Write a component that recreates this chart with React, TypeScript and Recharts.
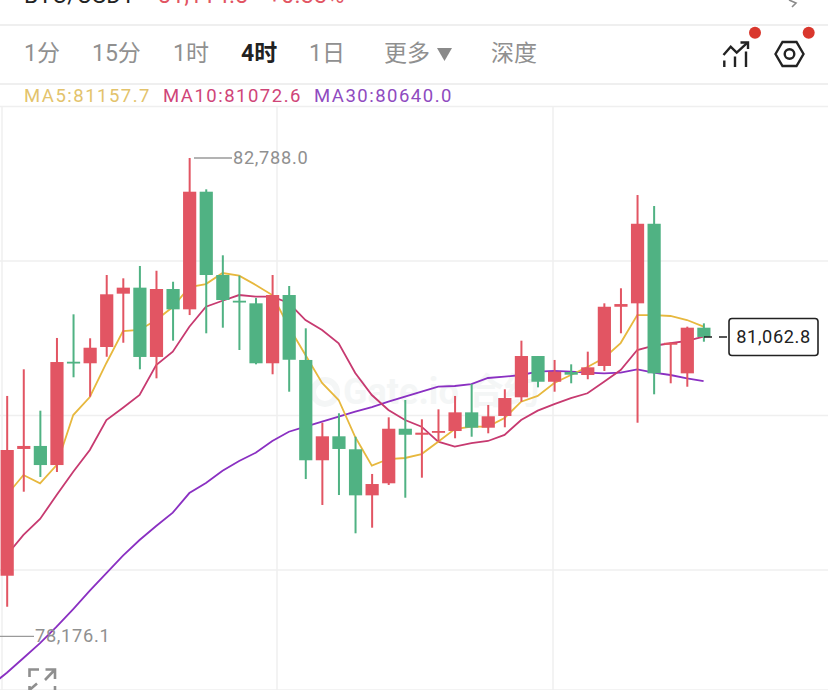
import {
  Bar,
  CartesianGrid,
  ComposedChart,
  Line,
  ReferenceLine,
  XAxis,
  YAxis,
} from "recharts";

const opens = [78761, 79983, 80012, 79828, 80824, 80809, 80966, 81480, 81538, 80870, 81525, 81329, 82463, 81660, 81412, 81387, 80809, 81467, 80841, 79874, 80105, 79980, 79536, 79652, 80178, 80120, 80146, 80156, 80336, 80188, 80301, 80481, 80879, 80631, 80725, 80696, 80783, 81354, 81387, 82154, 80988, 80712, 81152];
const closes = [79973, 80012, 79828, 80821, 80812, 80959, 81474, 81538, 80870, 81525, 81329, 82463, 81660, 81419, 81397, 80809, 81467, 80843, 79874, 80105, 79983, 79536, 79645, 80178, 80120, 80140, 80156, 80336, 80188, 80298, 80474, 80879, 80631, 80728, 80699, 80770, 81354, 81380, 82154, 80712, 81007, 81152, 81062.8];
const highs = [80494, 80751, 80352, 81053, 81281, 81050, 81660, 81628, 81747, 81701, 81595, 82788, 82486, 81850, 81653, 81438, 81660, 81554, 81146, 80236, 80327, 80101, 79742, 80288, 80455, 80269, 80365, 80494, 80609, 80407, 80558, 81027, 80879, 80841, 80799, 80921, 81387, 81532, 82431, 82325, 81011, 81162, 81194];
const lows = [78462, 79571, 79713, 79761, 80674, 80487, 80872, 81007, 80751, 80664, 81027, 81274, 81098, 81152, 80937, 80799, 80703, 80535, 79693, 79443, 79539, 79170, 79224, 79636, 79513, 79706, 80053, 80086, 80101, 80134, 80192, 80439, 80577, 80535, 80616, 80655, 80735, 81098, 80236, 80510, 80616, 80583, 81017];

const ma5 = [79539, 79732, 79652, 79828, 80310, 80484, 80812, 81120, 81130, 81226, 81351, 81544, 81573, 81679, 81653, 81564, 81467, 81159, 80889, 80619, 80455, 80098, 79822, 79886, 79896, 79934, 80053, 80175, 80198, 80198, 80281, 80439, 80494, 80619, 80696, 80773, 80860, 81004, 81274, 81274, 81265, 81226, 81162];
const ma10 = [78961, 79154, 79308, 79539, 79764, 79973, 80262, 80381, 80503, 80792, 80921, 81162, 81354, 81412, 81467, 81451, 81451, 81390, 81226, 81130, 81002, 80715, 80503, 80359, 80262, 80198, 80053, 80005, 80040, 80060, 80118, 80262, 80352, 80416, 80474, 80520, 80631, 80744, 80937, 80978, 81002, 81024, 81065];
const ma30 = [77826, 77968, 78112, 78270, 78440, 78617, 78787, 78954, 79105, 79240, 79369, 79558, 79655, 79773, 79867, 79947, 80060, 80149, 80198, 80246, 80294, 80342, 80387, 80439, 80487, 80535, 80583, 80590, 80609, 80667, 80680, 80696, 80728, 80735, 80728, 80718, 80712, 80718, 80751, 80718, 80696, 80664, 80638];
// MA30 point of the candle just off the left edge, the line runs in from there
const ma30Before = 77698;

const priceTicks = [83284.4, 81795.1, 80305.8, 78816.6];
const lastPrice = 81062.8;
const highMark = 82788.0;
const lowMark = 78176.1;
// the chart leaves room for 7 more candles on the right
const emptySlots = 7;

const tabs = [
  { label: "1分", left: 24 },
  { label: "15分", left: 92 },
  { label: "1时", left: 173 },
  { label: "4时", left: 241, active: true },
  { label: "1日", left: 309 },
  { label: "更多", left: 384 },
  { label: "深度", left: 491 },
];

const UP = "#e25563";
const DOWN = "#50b283";
const GRID = "#efefef";
const LABEL = "#909090";
const FONT = "Roboto, 'Noto Sans CJK SC', sans-serif";

const rows: any[] = [
  { slot: -1, ma30: ma30Before },
  ...opens.map((open, i) => ({
    slot: i,
    open,
    close: closes[i],
    high: highs[i],
    low: lows[i],
    range: [lows[i], highs[i]],
    ma5: ma5[i],
    ma10: ma10[i],
    ma30: ma30[i],
  })),
  ...Array.from({ length: emptySlots }, (_, i) => ({ slot: opens.length + i })),
];

const fmt = (v: number) =>
  v.toLocaleString("en-US", { minimumFractionDigits: 1, maximumFractionDigits: 1 });

function Candle(props: any) {
  const { x, y, width, height, payload } = props;
  if (payload.high == null) return null;
  const cx = x + width / 2;
  const perUnit = height / (payload.high - payload.low);
  const top = y + (payload.high - Math.max(payload.open, payload.close)) * perUnit;
  const bodyH = Math.abs(payload.open - payload.close) * perUnit;
  const color = payload.close >= payload.open ? UP : DOWN;
  return (
    <g>
      <rect x={cx - 1} y={y} width={2} height={height} fill={color} />
      <rect x={cx - 6.6} y={top} width={13.2} height={Math.max(bodyH, 1.8)} fill={color} />
    </g>
  );
}

function PriceTick(props: any) {
  const { y, payload } = props;
  return (
    <text x={818} y={y - 11} dy={6} textAnchor="end" fontSize={18.2} letterSpacing={0.7} fill={LABEL} fontFamily={FONT}>
      {fmt(payload.value)}
    </text>
  );
}

// leader line with the extreme price at its end
function Leader(from: number, to: number, value: number) {
  return (props: any) => (
    <g>
      <line x1={from} x2={to} y1={props.y1} y2={props.y1} stroke="#9a9a9a" strokeWidth={1.4} />
      <text x={to + 1} y={props.y1 + 6} fontSize={18.2} letterSpacing={0.7} fill={LABEL} fontFamily={FONT}>
        {fmt(value)}
      </text>
    </g>
  );
}

function LastPrice(props: any) {
  const y = props.y1;
  return (
    <g>
      <line x1={704} x2={729} y1={y} y2={y} stroke="#222" strokeWidth={1.5} strokeDasharray="8 7" />
      <rect x={729} y={y - 18.5} width={89} height={37} rx={3} fill="#fff" stroke="#222" strokeWidth={1.6} />
      <text x={773.5} y={y + 6} textAnchor="middle" fontSize={18.2} letterSpacing={0.6} fill="#222" fontFamily={FONT}>
        {fmt(lastPrice)}
      </text>
    </g>
  );
}

function Abs({ left, top, style, children }: any) {
  return (
    <div style={{ position: "absolute", left, top, whiteSpace: "nowrap", fontFamily: FONT, ...style }}>
      {children}
    </div>
  );
}

function Rule({ top }: { top: number }) {
  return <div style={{ position: "absolute", left: 0, top, width: 828, height: 1.5, background: GRID }} />;
}

const headerStyle = { fontSize: 23, lineHeight: "28px", letterSpacing: 0.3 };
const maStyle = { fontSize: 18.5, lineHeight: "22px", letterSpacing: 1.5 };

export default function App() {
  return (
    <div style={{ position: "absolute", left: 0, top: 0, width: 828, height: 690, overflow: "hidden", background: "#fff" }}>
      <Abs left={24} top={-18} style={{ ...headerStyle, color: "#222" }}>BTC/USDT</Abs>
      <Abs left={158} top={-18} style={{ ...headerStyle, color: UP }}>81,114.8</Abs>
      <Abs left={268} top={-18} style={{ ...headerStyle, color: UP }}>+0.33%</Abs>
      <Rule top={24} />
      <Rule top={83} />

      {tabs.map((t) => (
        <Abs
          key={t.label}
          left={t.left}
          top={38}
          style={{ fontSize: 23, lineHeight: "32px", color: t.active ? "#222" : LABEL, fontWeight: t.active ? 700 : 400 }}
        >
          {t.label}
        </Abs>
      ))}

      <Abs left={24} top={85} style={{ ...maStyle, color: "#e3c36c" }}>MA5:81157.7</Abs>
      <Abs left={163} top={85} style={{ ...maStyle, color: "#cf4578" }}>MA10:81072.6</Abs>
      <Abs left={314} top={85} style={{ ...maStyle, color: "#8f4bc0" }}>MA30:80640.0</Abs>

      <Abs left={343} top={367} style={{ fontSize: 36, lineHeight: "50px", fontWeight: 700, color: "#f4f6f6" }}>Gate.io 合约</Abs>
      <svg width={50} height={50} style={{ position: "absolute", left: 305, top: 368 }}>
        <circle cx={20} cy={24} r={12} fill="none" stroke="#f4f6f6" strokeWidth={6} />
      </svg>

      <div style={{ position: "absolute", left: 0, top: 0 }}>
        <ComposedChart
          width={828}
          height={690}
          data={rows}
          barSize={13.2}
          margin={{ top: 106.5, right: 0, bottom: 0, left: -18 }}
        >
          <CartesianGrid stroke={GRID} strokeWidth={1.5} verticalPoints={[2, 277, 553]} />
          <XAxis dataKey="slot" hide />
          <YAxis
            orientation="right"
            mirror
            width={0}
            domain={[77659.4, 83284.4]}
            ticks={priceTicks}
            interval={0}
            axisLine={false}
            tickLine={false}
            tick={<PriceTick />}
          />
          <Line dataKey="ma30" stroke="#8a30c2" strokeWidth={1.8} dot={false} activeDot={false} isAnimationActive={false} />
          <Line dataKey="ma10" stroke="#c73a70" strokeWidth={1.8} dot={false} activeDot={false} isAnimationActive={false} />
          <Line dataKey="ma5" stroke="#e7b83e" strokeWidth={1.8} dot={false} activeDot={false} isAnimationActive={false} />
          <Bar dataKey="range" shape={<Candle />} isAnimationActive={false} zIndex={500} />
          <ReferenceLine y={highMark} shape={Leader(194, 232, highMark)} />
          <ReferenceLine y={lowMark} shape={Leader(0, 34, lowMark)} />
          <ReferenceLine y={lastPrice} shape={LastPrice} zIndex={600} />
        </ComposedChart>
      </div>

      {/* dropdown mark and toolbar icons */}
      <svg width={828} height={690} style={{ position: "absolute", left: 0, top: 0, pointerEvents: "none" }}>
        <path d="M437 48 H452 L444.5 61 Z" fill="#8a8a8a" />
        <path d="M789 0 L796 3 L792 7" fill="none" stroke="#8a8a8a" strokeWidth={1.6} />
        <g fill="none" stroke="#222" strokeWidth={2.4}>
          <path d="M723.5 55 L730.7 46.7 L736.7 52.7 L747.5 42.7" />
          <path d="M740.5 42.5 H748 V49" />
          <path d="M724.3 60.5 V67 M735 56.5 V67 M746 51.5 V67" />
          <path d="M775.5 54 L782.5 42 H796.5 L803.5 54 L796.5 66 H782.5 Z" />
          <circle cx={789.5} cy={54} r={4.8} />
        </g>
        <circle cx={755} cy={32.7} r={6} fill="#d9372d" />
        <circle cx={808.7} cy={32.7} r={6} fill="#d9372d" />
        <g fill="none" stroke="#8f8f8f" strokeWidth={2.6}>
          <path d="M29.5 677 V669.5 H39" />
          <path d="M45.5 669.5 H55 V679 M55 669.5 L45 680" />
          <path d="M29.5 690 L37 683.5 M29.5 690 V686" />
          <path d="M55 690 V686" />
        </g>
      </svg>
    </div>
  );
}
